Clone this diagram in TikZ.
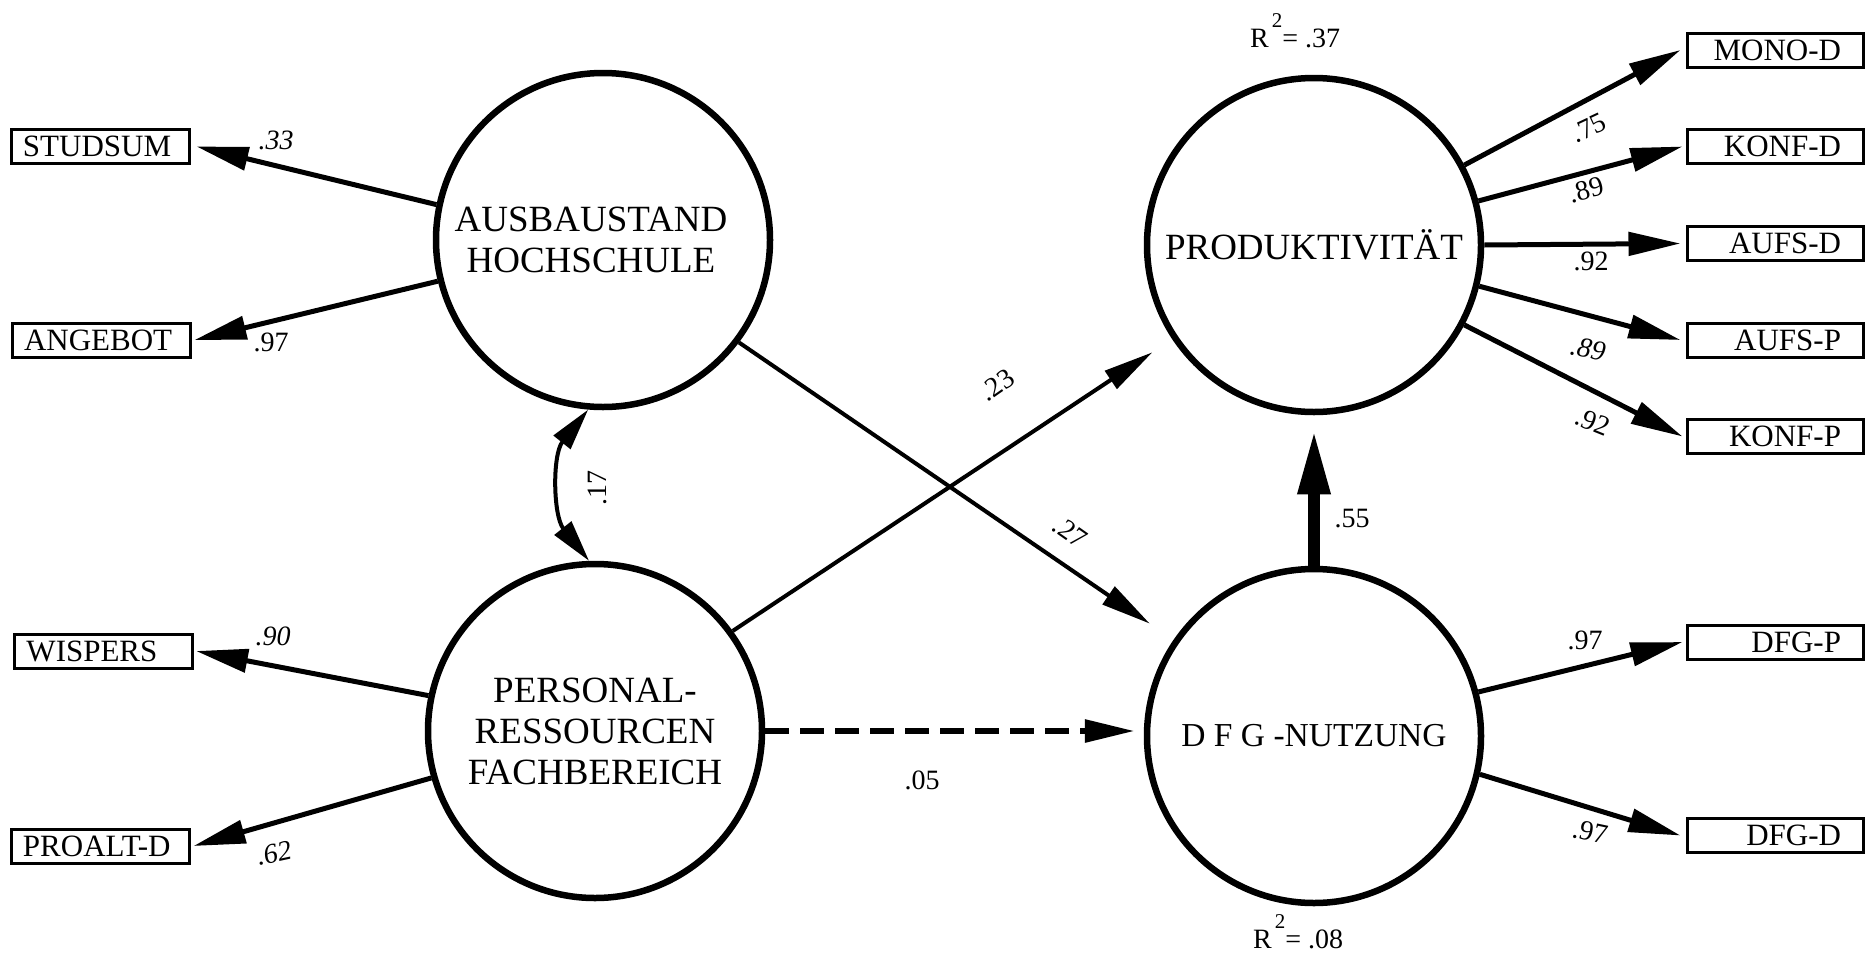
\documentclass[tikz,border=0pt]{standalone}
\usepackage{fontspec}
\setmainfont{Liberation Serif}
\usetikzlibrary{arrows.meta,calc}
\begin{document}
\begin{tikzpicture}[x=1pt,y=-1pt,
  lat/.style={circle,draw,line width=6.5pt,minimum size=334pt,inner sep=0pt,align=center,font=\fontsize{37}{41}\selectfont},
  lbox/.style={draw,line width=3pt,minimum height=34pt,inner xsep=12pt,inner ysep=0pt,text width=154pt,align=left,font=\fontsize{31}{31}\selectfont},
  rbox/.style={draw,line width=3pt,minimum height=34pt,inner xsep=22pt,inner ysep=0pt,text width=132pt,align=right,font=\fontsize{31}{31}\selectfont},
  coef/.style={inner sep=0pt,font=\fontsize{28}{28}\selectfont},
  coefit/.style={inner sep=0pt,font=\fontsize{28}{28}\selectfont\itshape},
  arr/.style={line width=5pt,-{Triangle[length=52pt,width=23pt]}},
  iarr/.style={line width=4pt,-{Triangle[length=50pt,width=21pt]}},
]
\useasboundingbox (0,0) rectangle (1866,956);

% latent variables
\node[lat] (A) at (603,240) {AUSBAUSTAND\hspace*{24pt}\\HOCHSCHULE\hspace*{24pt}};
\node[lat] (P) at (595,731) {PERSONAL-\\RESSOURCEN\\FACHBEREICH};
\node[lat] (R) at (1314,245) {PRODUKTIVITÄT};
\node[lat,font=\fontsize{33.5}{41}\selectfont] (D) at (1314,736) {D F G -NUTZUNG};

% indicators
\node[lbox] (stud) at (100,146.5) {STUDSUM};
\node[lbox] (ang) at (101,340) {ANGEBOT};
\node[lbox] (wis) at (103.5,651) {WISPERS};
\node[lbox] (pro) at (100,846) {PROALT-D};
\node[rbox] (mono) at (1775,50) {MONO-D};
\node[rbox] (konfd) at (1775,146.5) {KONF-D};
\node[rbox] (aufsd) at (1775,243.5) {AUFS-D};
\node[rbox] (aufsp) at (1775,340) {AUFS-P};
\node[rbox] (konfp) at (1775,436.5) {KONF-P};
\node[rbox] (dfgp) at (1775,642) {DFG-P};
\node[rbox] (dfgd) at (1775,835.5) {DFG-D};

% measurement arrows
\draw[arr] (A.168) -- ([xshift=6pt]stud.east);
\draw[arr] (A.194) -- ([xshift=3pt]ang.east);
\draw[arr] (P.168) -- ([xshift=2pt]wis.east);
\draw[arr] (P.196) -- ([xshift=3pt]pro.east);
\draw[arr] (R.28) -- ([xshift=-5pt]mono.west);
\draw[arr] (R.15) -- ([xshift=-3pt]konfd.west);
\draw[arr] (R.0) -- ([xshift=-5pt]aufsd.west);
\draw[arr] (R.-14) -- ([xshift=-5pt]aufsp.west);
\draw[arr] (R.-28) -- ([xshift=-3pt]konfp.west);
\draw[arr] (D.15) -- ([xshift=-3pt]dfgp.west);
\draw[arr] (D.-13) -- ([xshift=-5pt]dfgd.west);

% structural paths
\draw[iarr] (A.-37) -- ($(D.center)!199pt!(A.-37)$);
\draw[iarr] (P.36) -- ($(R.center)!194pt!(P.36)$);
\draw[line width=12pt,-{Triangle[length=65pt,width=30pt]}] (D.north) -- ([yshift=-14pt]R.south);
\draw[line width=6pt,dash pattern=on 24pt off 11pt,-{Triangle[length=50pt,width=22pt]}] (P.east) -- ($(P.east -| D.west)+(-9,0)$);
\draw[line width=4pt,{Triangle[length=42pt,width=21pt]}-{Triangle[length=42pt,width=21pt]}] (A.265) .. controls +(-36,45) and +(-36,-45) .. (P.92);

% coefficients
\node[coefit] (c33) at (276,140) {.33};
\node[coef] (c97a) at (271,342) {.97};
\node[coefit] (c90) at (273,636) {.90};
\node[coefit,rotate=12] (c62) at (274,853) {.62};
\node[coef,rotate=25] (c75) at (1589,128) {.75};
\node[coef,rotate=15] (c89a) at (1586,190) {.89};
\node[coef] (c92a) at (1591,261) {.92};
\node[coefit,rotate=-12] (c89b) at (1588,349) {.89};
\node[coef,rotate=-22] (c92b) at (1593,422) {.92};
\node[coef] (c97b) at (1585,640) {.97};
\node[coef,rotate=-12] (c97c) at (1590,832) {.97};
\node[coef,rotate=90] (c17) at (597,488) {.17};
\node[coef,rotate=35] (c23) at (997,385) {.23};
\node[coef,rotate=-35] (c27) at (1070,532) {.27};
\node[coef] (c55) at (1352,519) {.55};
\node[coef] (c05) at (922,780) {.05};

% R squared
\node[coef,anchor=base west] (r37) at (1250,47) {R\hspace{3pt}\raisebox{20pt}{\fontsize{21}{21}\selectfont 2}= .37};
\node[coef,anchor=base west] (r08) at (1253,948) {R\hspace{3pt}\raisebox{20pt}{\fontsize{21}{21}\selectfont 2}= .08};
\end{tikzpicture}
\end{document}
